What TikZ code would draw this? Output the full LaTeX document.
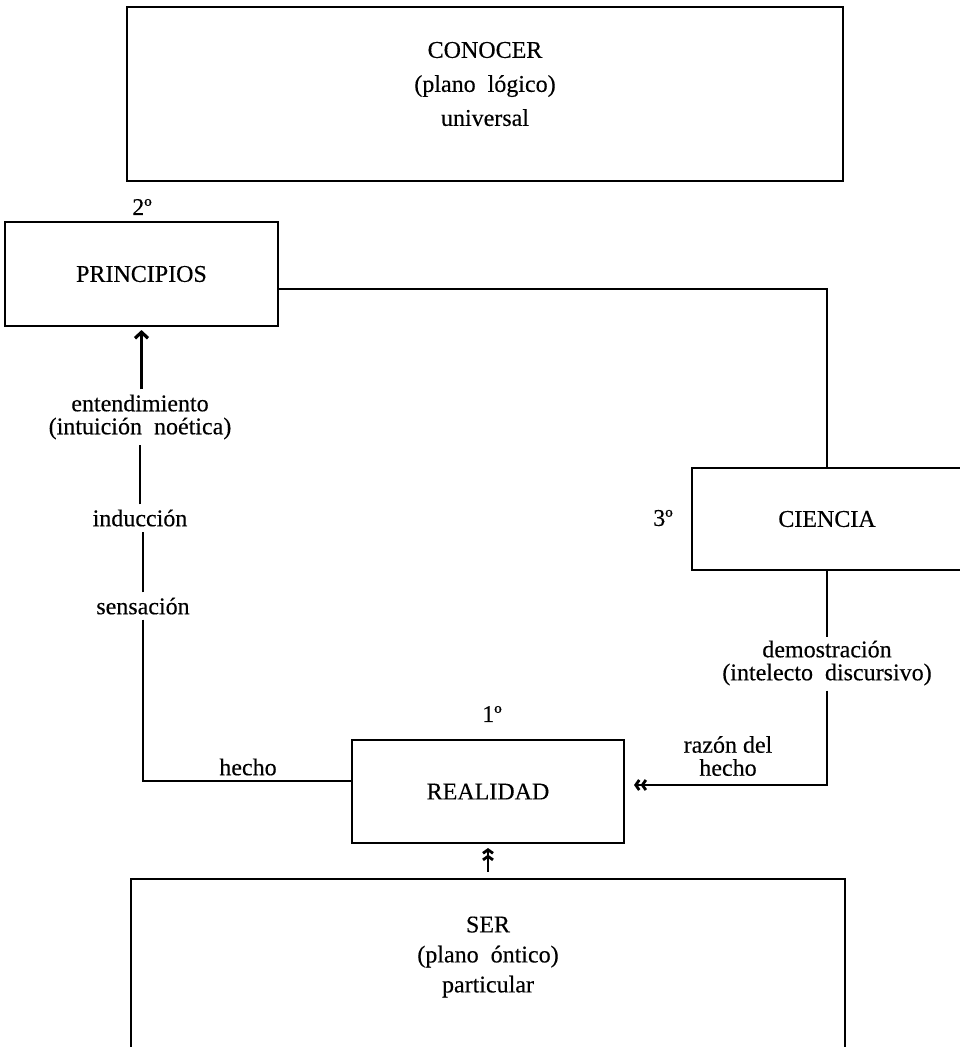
\documentclass[tikz,border=0pt]{standalone}
\usepackage{fontspec}
\setmainfont{Liberation Serif}[FakeBold=0.3]
\usetikzlibrary{arrows.meta}
\newcommand{\lblfont}{\fontsize{24}{23}\selectfont}
\newcommand{\boxfont}{\fontsize{24}{34}\selectfont}
\tikzset{
  lbl/.style={font=\lblfont, inner sep=0pt, align=center},
  boxnode/.style={draw, line width=2.1pt, rectangle, inner sep=0pt, font=\lblfont},
  conn/.style={line width=2.1pt},
  gap/.style={shorten <=5pt, shorten >=5pt},
  sarrow/.style={-{Straight Barb[length=6pt,width=13pt,line width=3.2pt]}},
  darrow/.style={-{Straight Barb[length=3.5pt,width=10pt,line width=2.8pt]Straight Barb[length=3.5pt,width=10pt,line width=2.8pt]}}
}
\begin{document}
\begin{tikzpicture}[x=1pt,y=-1pt]
\useasboundingbox (0,0) rectangle (960,1047);
\clip (0,0) rectangle (960,1047);
\fill[white] (0,0) rectangle (960,1047);

% boxes
\node[boxnode, minimum width=716pt, minimum height=174pt] (C) at (485,94) {};
\node[lbl, font=\boxfont] (Ct) at (485,84) {CONOCER\\(plano\enspace lógico)\\universal};
\node[boxnode, minimum width=273pt, minimum height=104pt] (P) at (141.5,274) {PRINCIPIOS};
\node[boxnode, minimum width=270pt, minimum height=102pt] (Ci) at (827,519) {CIENCIA};
\node[boxnode, minimum width=272pt, minimum height=103pt] (R) at (488,791.5) {REALIDAD};
\node[boxnode, minimum width=714pt, minimum height=191pt] (S) at (488,974.5) {};
\node[lbl, font=\fontsize{24}{30}\selectfont] (St) at (488,957) {SER\\(plano\enspace óntico)\\particular};

% ordinals
\node[lbl] (n2) at (142,207) {2º};
\node[lbl] (n3) at (663,518) {3º};
\node[lbl] (n1) at (492,714) {1º};

% labels
\node[lbl] (ent) at (140,417) {entendimiento\\(intuición\enspace noética)};
\node[lbl] (ind) at (140,518) {inducción};
\node[lbl] (sen) at (143,606) {sensación};
\node[lbl] (hec) at (248,767) {hecho};
\node[lbl] (dem) at (827,663) {demostración\\(intelecto\enspace discursivo)};
\node[lbl] (raz) at (728,756) {razón del\\hecho};

\coordinate (k1) at (143,781);
\coordinate (k2) at (827,289);
\coordinate (k3) at (827,785);

% left chain
\draw[conn, sarrow, shorten <=5pt, shorten >=3pt] (ent.north -| P.south) -- (P.south);
\draw[conn, gap] (ind.north) -- (ind.north |- ent.south);
\draw[conn, gap] (sen.north) -- (sen.north |- ind.south);
\draw[conn, shorten <=5pt] (sen.south) -- (k1) -- (R.west |- k1);

% right chain
\draw[conn] (P.east |- k2) -- (k2) -- (Ci.north);
\draw[conn, shorten >=3pt] (Ci.south) -- (dem.north);
\draw[conn, darrow, shorten <=5pt, shorten >=9pt] (dem.south) -- (k3) -- (R.east |- k3);

% ser to realidad
\draw[conn, darrow, shorten <=6pt, shorten >=4pt] (S.north) -- (R.south);
\end{tikzpicture}
\end{document}
